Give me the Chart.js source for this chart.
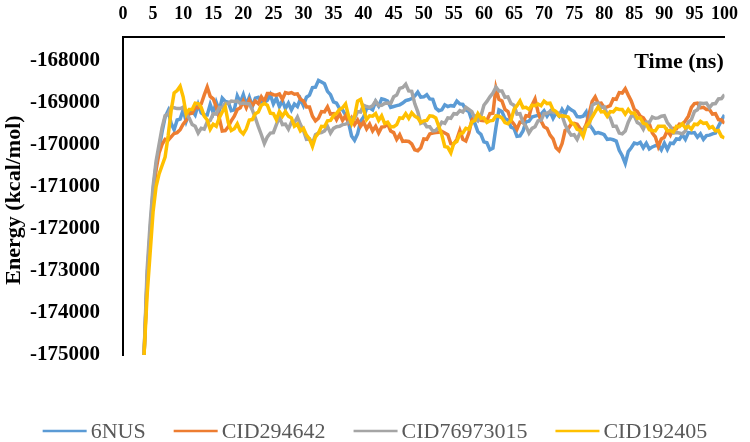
<!DOCTYPE html>
<html>
<head>
<meta charset="utf-8">
<script src="https://cdn.jsdelivr.net/npm/chart.js@4"></script>
<style>
  body { margin: 0; background: #fff; }
  #wrap { width: 750px; height: 442px; }
</style>
</head>
<body>
<div id="wrap"><canvas id="energyChart" width="750" height="442"></canvas></div>
<script>
const seriesNames = ["6NUS", "CID294642", "CID76973015", "CID192405"];
const seriesColors = ["#5B9BD5", "#ED7D31", "#A5A5A5", "#FFC000"];
const xTicks = [0, 5, 10, 15, 20, 25, 30, 35, 40, 45, 50, 55, 60, 65, 70, 75, 80, 85, 90, 95, 100];
const yTicks = [-175000, -174000, -173000, -172000, -171000, -170000, -169000, -168000];

// time (ns)
const time = [
  3.5, 4, 4.5, 5, 5.5, 6, 6.5, 7, 7.5, 8, 8.5, 9, 9.5, 10, 10.5, 11, 11.5, 12, 12.5, 13,
  13.5, 14, 14.5, 15, 15.5, 16, 16.5, 17, 17.5, 18, 18.5, 19, 19.5, 20, 20.5, 21, 21.5, 22, 22.5, 23,
  23.5, 24, 24.5, 25, 25.5, 26, 26.5, 27, 27.5, 28, 28.5, 29, 29.5, 30, 30.5, 31, 31.5, 32, 32.5, 33,
  33.5, 34, 34.5, 35, 35.5, 36, 36.5, 37, 37.5, 38, 38.5, 39, 39.5, 40, 40.5, 41, 41.5, 42, 42.5, 43,
  43.5, 44, 44.5, 45, 45.5, 46, 46.5, 47, 47.5, 48, 48.5, 49, 49.5, 50, 50.5, 51, 51.5, 52, 52.5, 53,
  53.5, 54, 54.5, 55, 55.5, 56, 56.5, 57, 57.5, 58, 58.5, 59, 59.5, 60, 60.5, 61, 61.5, 62, 62.5, 63,
  63.5, 64, 64.5, 65, 65.5, 66, 66.5, 67, 67.5, 68, 68.5, 69, 69.5, 70, 70.5, 71, 71.5, 72, 72.5, 73,
  73.5, 74, 74.5, 75, 75.5, 76, 76.5, 77, 77.5, 78, 78.5, 79, 79.5, 80, 80.5, 81, 81.5, 82, 82.5, 83,
  83.5, 84, 84.5, 85, 85.5, 86, 86.5, 87, 87.5, 88, 88.5, 89, 89.5, 90, 90.5, 91, 91.5, 92, 92.5, 93,
  93.5, 94, 94.5, 95, 95.5, 96, 96.5, 97, 97.5, 98, 98.5, 99, 99.5, 100
];

const e6NUS = [
  -175000, -173200, -172100, -171100, -170500, -170100, -169700, -169350, -169200, -169500,
  -169650, -169420, -169400, -169180, -169450, -169250, -169200, -169300, -169050, -169250,
  -169300, -169300, -169050, -169250, -169000, -169200, -168900, -168980, -169000, -169200,
  -169180, -168850, -169000, -168820, -169060, -168880, -169100, -168900, -168880, -169000,
  -169000, -168950, -168820, -169040, -168900, -169100, -168960, -169150, -169020, -169180,
  -169040, -169100, -168920, -169080, -168880, -168830, -168650, -168640, -168480, -168520,
  -168560, -168740, -168820, -168990, -169020, -169150, -169180, -169300, -169480, -169800,
  -169900, -169750, -169450, -169350, -169150, -169130, -169180, -168980, -169090, -168920,
  -168940, -168970, -169120, -169100, -169080, -169060, -169020, -168960, -168940, -168910,
  -168850, -168760, -168880, -168870, -168820, -168920, -168930, -169140, -169200, -169180,
  -169060, -169100, -169080, -169090, -168970, -169040, -169050, -169180, -169220, -169440,
  -169500, -169700, -169760, -169940, -169960, -170130, -170090, -169600, -169180, -169220,
  -169390, -169420, -169590, -169620, -169810, -169800, -169680, -169460, -169450, -169350,
  -169330, -169310, -169280, -169200, -169330, -169220, -169380, -169250, -169330, -169170,
  -169280, -169120, -169180, -169220, -169340, -169350, -169330, -169230, -169530, -169620,
  -169740, -169720, -169740, -169770, -169880, -169870, -169890, -169920, -170140, -170270,
  -170450, -170170, -170080, -169970, -169990, -169950, -170080, -169970, -170110, -170060,
  -170030, -170020, -170130, -169970, -170120, -169970, -169980, -169870, -169880, -169770,
  -169880, -169720, -169730, -169720, -169830, -169750, -169880, -169790, -169780, -169750,
  -169730, -169570, -169430, -169300
];

const eCID294642 = [
  -175000, -173300, -172200, -171200, -170600, -170200, -170000, -169880, -169900, -169820,
  -169740, -169720, -169650, -169520, -169430, -169270, -169260, -169120, -169130, -169040,
  -168830, -168640, -168860, -168920, -169100, -169370, -169680, -169670, -169580, -169440,
  -169330, -169170, -169130, -168970, -169130, -168950, -169080, -168970, -169030, -168870,
  -168980, -168790, -168790, -168820, -168830, -168800, -168930, -168770, -168790, -168770,
  -168810, -168800, -168930, -168970, -169110, -169110, -169330, -169440, -169380, -169220,
  -169230, -169110, -169280, -169270, -169410, -169270, -169430, -169320, -169480, -169370,
  -169530, -169420, -169570, -169470, -169630, -169520, -169680, -169570, -169730, -169590,
  -169580, -169510, -169680, -169720, -169880, -169770, -169930, -169920, -169930, -169990,
  -170130, -170150, -170080, -169870, -169880, -169750, -169730, -169720, -169710, -169690,
  -169730, -169770, -169980, -169990, -169880, -169670, -169880, -169920, -169730, -169420,
  -169330, -169320, -169430, -169440, -169430, -169270, -169260, -168660, -168930, -168970,
  -169170, -169220, -169430, -169520, -169640, -169470, -169480, -169320, -169330, -169070,
  -168920, -169230, -169440, -169580, -169620, -169780, -169870, -170080, -170150, -169980,
  -169670, -169630, -169520, -169500, -169520, -169630, -169670, -169530, -169270, -168980,
  -168870, -169030, -169020, -169130, -169110, -169080, -168920, -168930, -168770, -168780,
  -168680, -168830, -168970, -169170, -169220, -169330, -169370, -169480, -169510, -169730,
  -169820, -170050, -169870, -169830, -169670, -169780, -169620, -169630, -169520, -169530,
  -169440, -169330, -169120, -169030, -169020, -169130, -169120, -169170, -169170, -169280,
  -169270, -169410, -169420, -169500
];

const eCID76973015 = [
  -175000, -173000, -171900, -171000, -170400, -170000, -169600, -169320, -169280, -169120,
  -169130, -169150, -169150, -169120, -169280, -169370, -169530, -169570, -169730, -169620,
  -169640, -169470, -169430, -169270, -169280, -169120, -169130, -169020, -169030, -168970,
  -168980, -168970, -169030, -169020, -169030, -169040, -169180, -169370, -169580, -169770,
  -169980, -169820, -169730, -169720, -169530, -169350, -169530, -169520, -169640, -169470,
  -169480, -169350, -169530, -169670, -169880, -169870, -169980, -169770, -169730, -169720,
  -169680, -169570, -169730, -169620, -169580, -169570, -169530, -169520, -169480, -169370,
  -169380, -169220, -169230, -169070, -169100, -169120, -169080, -168970, -169080, -169070,
  -169030, -169020, -169030, -168870, -168830, -168670, -168650, -168570, -168730, -168740,
  -169030, -169220, -169500, -169470, -169580, -169580, -169680, -169670, -169590, -169470,
  -169500, -169370, -169380, -169270, -169280, -169200, -169230, -169120, -169170, -169220,
  -169380, -169440, -169330, -169070, -168980, -168870, -168780, -168640, -168730, -168730,
  -168880, -168870, -169030, -169070, -169280, -169270, -169480, -169570, -169730, -169620,
  -169580, -169440, -169430, -169270, -169260, -169220, -169230, -169250, -169260, -169320,
  -169530, -169670, -169780, -169770, -169880, -169720, -169680, -169570, -169570, -169070,
  -169030, -169020, -169130, -169110, -169280, -169370, -169570, -169570, -169730, -169750,
  -169680, -169470, -169330, -169320, -169480, -169520, -169640, -169470, -169480, -169350,
  -169380, -169370, -169330, -169320, -169480, -169570, -169730, -169720, -169730, -169750,
  -169680, -169470, -169410, -169220, -169180, -169020, -169030, -169020, -169130, -169040,
  -169030, -168920, -168910, -168820
];

const eCID192405 = [
  -175000, -173600, -172600, -171600, -171000, -170700, -170500, -170300, -169800, -169200,
  -168780, -168720, -168620, -168870, -169280, -169170, -169170, -169020, -169030, -169120,
  -169330, -169420, -169640, -169520, -169570, -169370, -169230, -169110, -169480, -169670,
  -169630, -169510, -169680, -169750, -169630, -169420, -169410, -169270, -169230, -169070,
  -169030, -169070, -169260, -169270, -169410, -169220, -169330, -169220, -169330, -169370,
  -169570, -169520, -169680, -169620, -169780, -169870, -170050, -169820, -169730, -169570,
  -169580, -169440, -169430, -169320, -169260, -169170, -169130, -169040, -169330, -169510,
  -169330, -168970, -168930, -169170, -169410, -169320, -169330, -169270, -169430, -169320,
  -169500, -169470, -169580, -169580, -169530, -169370, -169380, -169270, -169380, -169250,
  -169330, -169370, -169480, -169440, -169430, -169320, -169330, -169370, -169570, -169770,
  -170050, -170070, -170200, -169970, -169930, -169750, -169730, -169620, -169640, -169470,
  -169430, -169270, -169380, -169370, -169480, -169440, -169430, -169320, -169330, -169370,
  -169480, -169510, -169430, -169170, -169080, -168970, -169130, -169120, -169170, -169070,
  -169080, -169040, -169080, -168970, -169030, -169020, -169180, -169220, -169330, -169320,
  -169330, -169350, -169480, -169520, -169640, -169670, -169810, -169570, -169480, -169350,
  -169230, -169110, -169230, -169220, -169330, -169220, -169230, -169150, -169170, -169170,
  -169280, -169170, -169260, -169250, -169380, -169370, -169500, -169520, -169650, -169670,
  -169680, -169570, -169570, -169570, -169680, -169670, -169710, -169570, -169580, -169510,
  -169610, -169570, -169640, -169520, -169530, -169450, -169500, -169490, -169610, -169580,
  -169680, -169670, -169810, -169850
];

const seriesValues = [e6NUS, eCID294642, eCID76973015, eCID192405];

const FONT = "'Liberation Serif', 'Times New Roman', serif";

// titles + legend drawn by hand to match the original placement
const extras = {
  id: "extras",
  afterDraw(chart) {
    const ctx = chart.ctx;
    ctx.save();
    ctx.fillStyle = "#000";
    ctx.font = "bold 22px " + FONT;
    ctx.textAlign = "center";
    ctx.textBaseline = "middle";
    ctx.fillText("Time (ns)", 679, 62);

    ctx.translate(14, 200);
    ctx.rotate(-Math.PI / 2);
    ctx.fillText("Energy (kcal/mol)", 0, 0);
    ctx.restore();

    // legend
    ctx.save();
    ctx.font = "22px " + FONT;
    ctx.textBaseline = "middle";
    const lineW = 44, gap = 4, itemGap = 28, ly = 431;
    const widths = seriesNames.map(n => lineW + gap + ctx.measureText(n).width);
    const total = widths.reduce((a, b) => a + b, 0) + itemGap * (widths.length - 1);
    let x = 375 - total / 2;
    seriesNames.forEach((n, i) => {
      ctx.strokeStyle = seriesColors[i];
      ctx.lineWidth = 2.5;
      ctx.beginPath();
      ctx.moveTo(x, ly);
      ctx.lineTo(x + lineW, ly);
      ctx.stroke();
      ctx.fillStyle = "#595959";
      ctx.textAlign = "left";
      ctx.fillText(n, x + lineW + gap, ly + 1);
      x += widths[i] + itemGap;
    });
    ctx.restore();
  }
};

// reverse so the last series is painted on top, as in the original
const datasets = seriesNames.map((name, i) => ({
  label: name,
  data: time.map((t, k) => ({ x: t, y: seriesValues[i][k] })),
  borderColor: seriesColors[i],
  backgroundColor: seriesColors[i],
  borderWidth: 3.5,
  pointRadius: 0,
  tension: 0,
  fill: false
})).reverse();

new Chart(document.getElementById("energyChart"), {
  type: "line",
  data: { datasets },
  options: {
    responsive: false,
    animation: false,
    layout: { padding: { left: 0, right: 21, top: 0, bottom: 87 } },
    plugins: {
      legend: { display: false },
      tooltip: { enabled: false }
    },
    scales: {
      x: {
        type: "linear",
        position: "top",
        min: 0,
        max: 100,
        afterFit: s => { s.height = 37; },
        afterBuildTicks: s => { s.ticks = xTicks.map(v => ({ value: v })); },
        grid: { display: false, drawTicks: false },
        border: { display: true, color: "#000", width: 2 },
        ticks: {
          color: "#000",
          font: { family: FONT, size: 18, weight: "bold" },
          padding: 12,
          maxRotation: 0,
          autoSkip: false
        }
      },
      y: {
        type: "linear",
        min: -175000,
        max: -167450,
        afterFit: s => { s.width = 123; },
        afterBuildTicks: s => { s.ticks = yTicks.map(v => ({ value: v })); },
        grid: { display: false, drawTicks: false },
        border: { display: true, color: "#000", width: 2 },
        ticks: {
          color: "#000",
          font: { family: FONT, size: 21, weight: "bold" },
          padding: 23,
          autoSkip: false,
          callback: v => String(v)
        }
      }
    }
  },
  plugins: [extras]
});
</script>
</body>
</html>
